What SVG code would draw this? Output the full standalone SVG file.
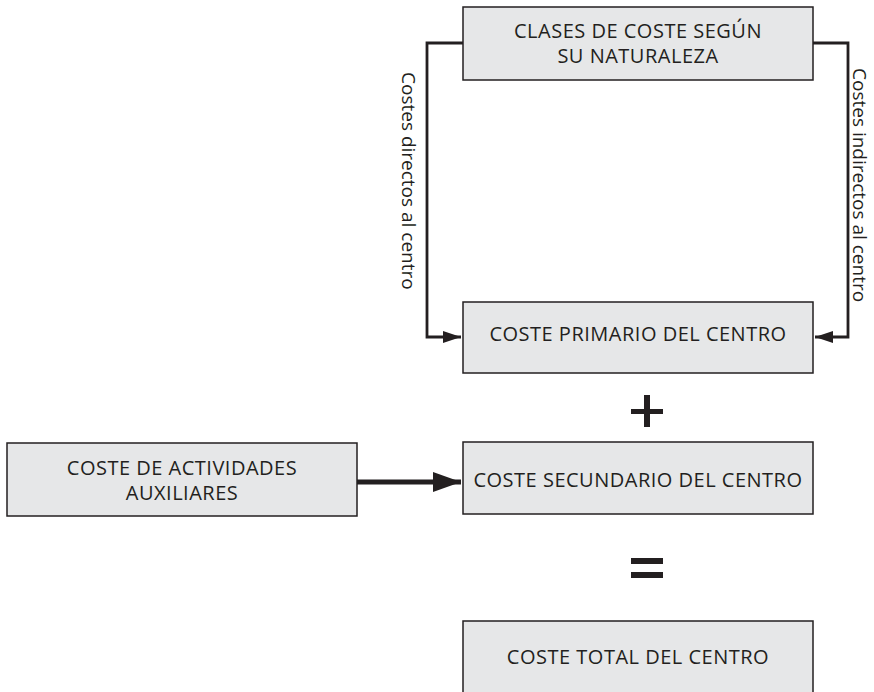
<svg xmlns="http://www.w3.org/2000/svg" width="874" height="692" viewBox="0 0 874 692">
<defs>
<style>
.box{fill:#e6e7e8;stroke:#231f20;stroke-width:1.5}
.t{font-family:"Open Sans","Liberation Sans",sans-serif;font-size:20px;letter-spacing:0.5px;fill:#231f20;text-anchor:middle}
.v{font-family:"Open Sans","Liberation Sans",sans-serif;font-size:19px;fill:#231f20}
.c{fill:none;stroke:#231f20;stroke-width:2.8}
.op{fill:#231f20}
</style>
<marker id="ah" markerWidth="18" markerHeight="12" refX="18" refY="6" orient="auto" markerUnits="userSpaceOnUse">
<path d="M0,0 L18,6 L0,12 Z" fill="#231f20"/>
</marker>
<marker id="ahb" markerWidth="28" markerHeight="20" refX="28" refY="10" orient="auto" markerUnits="userSpaceOnUse">
<path d="M0,0 L28,10 L0,20 Z" fill="#231f20"/>
</marker>
</defs>
<rect width="874" height="692" fill="#ffffff"/>
<g id="connectors">
<polyline class="c" points="463,43 427,43 427,337 461,337" marker-end="url(#ah)"/>
<polyline class="c" points="813,43 848,43 848,337 815,337" marker-end="url(#ah)"/>
<line x1="357" y1="482" x2="461" y2="482" stroke="#231f20" stroke-width="5" marker-end="url(#ahb)"/>
<text class="v" transform="translate(402,72) rotate(90)">Costes directos al centro</text>
<text class="v" transform="translate(853,68) rotate(90)">Costes indirectos al centro</text>
</g>
<g id="clases">
<rect class="box" x="463" y="7" width="350" height="73"/>
<text class="t" x="638" y="38">CLASES DE COSTE SEGÚN</text>
<text class="t" x="638" y="63">SU NATURALEZA</text>
</g>
<g id="primario">
<rect class="box" x="463" y="302" width="350" height="71"/>
<text class="t" x="638" y="341">COSTE PRIMARIO DEL CENTRO</text>
</g>
<g id="plus">
<rect class="op" x="631" y="409" width="32" height="5"/>
<rect class="op" x="644" y="395" width="6" height="32"/>
</g>
<g id="auxiliares">
<rect class="box" x="7" y="443" width="350" height="73"/>
<text class="t" x="182" y="475">COSTE DE ACTIVIDADES</text>
<text class="t" x="182" y="500">AUXILIARES</text>
</g>
<g id="secundario">
<rect class="box" x="463" y="442" width="350" height="72"/>
<text class="t" x="638" y="487">COSTE SECUNDARIO DEL CENTRO</text>
</g>
<g id="equals">
<rect class="op" x="631" y="558" width="32" height="6"/>
<rect class="op" x="631" y="572" width="32" height="6"/>
</g>
<g id="total">
<rect class="box" x="463" y="621" width="350" height="80"/>
<text class="t" x="638" y="664">COSTE TOTAL DEL CENTRO</text>
</g>
</svg>
